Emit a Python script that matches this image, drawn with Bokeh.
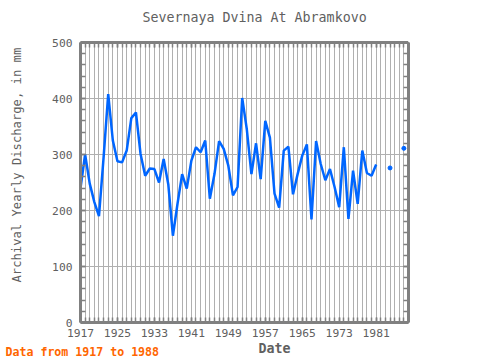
import math
from bokeh.plotting import figure
from bokeh.models import (Range1d, LinearAxis, FixedTicker, SingleIntervalTicker,
                          Title, ColumnDataSource)
from bokeh.embed import file_html
from bokeh.resources import INLINE

years = list(range(1917, 1988))
nan = float("nan")
discharge = [240, 300, 248, 215, 190, 295, 408, 325, 288, 286,
             307, 365, 375, 301, 262, 275, 274, 250, 292, 247,
             155, 212, 265, 239, 289, 313, 304, 325, 221, 265,
             324, 310, 280, 227, 242, 401, 345, 265, 320, 256,
             360, 330, 230, 205, 307, 314, 229, 265, 298, 318,
             184, 324, 283, 254, 274, 242, 206, 313, 185, 271,
             212, 307, 267, 262, 282, nan, nan, 276, nan, nan, 311]
label_years = list(range(1917, 1988, 8))
title_text = "Severnaya Dvina At Abramkovo"
ylabel_text = "Archival Yearly Discharge, in mm"
xlabel_text = "Date"
footer_text = "Data from 1917 to 1988"

FONT = "DejaVu Sans Mono"
AX = "#808080"
TXT = "#606060"

p = figure(width=480, height=360, output_backend="svg", toolbar_location=None,
           x_range=Range1d(1917, 1988), y_range=Range1d(0, 500),
           x_axis_location=None, y_axis_location=None,
           min_border_left=80, min_border_right=72, min_border_top=42, min_border_bottom=38)
p.outline_line_color = None
p.background_fill_color = "white"
p.border_fill_color = "white"

p.title.text = title_text
p.title.align = "left"
p.title.offset = 62
p.title.standoff = 2
p.title.text_font = FONT
p.title.text_font_size = "13.3px"
p.title.text_font_style = "normal"
p.title.text_color = TXT

xt = FixedTicker(ticks=label_years, minor_ticks=years + [1988])
yt = SingleIntervalTicker(interval=100, num_minor_ticks=5)

def style(ax, labels=True):
    ax.axis_line_color = AX
    ax.axis_line_width = 3
    ax.major_tick_line_color = AX
    ax.minor_tick_line_color = AX
    ax.major_tick_line_width = 1.5
    ax.minor_tick_line_width = 1.5
    ax.major_tick_in = 5
    ax.major_tick_out = 0
    ax.minor_tick_in = 5
    ax.minor_tick_out = 0
    ax.major_label_text_font = FONT
    ax.major_label_text_color = TXT
    ax.major_label_text_font_size = "11.3px"
    if not labels:
        ax.major_label_text_alpha = 0
        ax.major_label_text_font_size = "0px"
        ax.major_label_standoff = 0

def spacer(size, tick):
    # invisible (white) outward tick that only reserves room in the side panel
    ax = LinearAxis(ticker=FixedTicker(ticks=[tick], minor_ticks=[]))
    ax.axis_line_color = None
    ax.major_tick_line_color = "white"
    ax.major_tick_line_width = 1
    ax.minor_tick_line_color = None
    ax.major_tick_in = 0
    ax.major_tick_out = size
    ax.minor_tick_in = 0
    ax.minor_tick_out = 0
    ax.major_label_text_alpha = 0
    ax.major_label_text_font_size = "0px"
    ax.major_label_standoff = 0
    return ax

bottom = LinearAxis(ticker=xt); style(bottom); bottom.major_label_standoff = 6
top = LinearAxis(ticker=xt); style(top, False)
left = LinearAxis(ticker=yt); style(left); left.major_label_standoff = 8
right = LinearAxis(ticker=yt); style(right, False)

ytitle = Title(text=ylabel_text, align="left", offset=40, standoff=2,
               text_font=FONT, text_font_size="12.2px", text_font_style="normal",
               text_color=TXT)
xtitle = Title(text=xlabel_text, align="left", offset=178, standoff=2,
               vertical_align="top",
               text_font=FONT, text_font_size="13.3px", text_font_style="bold",
               text_color=TXT)
footer = Title(text=footer_text, align="left", offset=-75, standoff=-28,
               vertical_align="top",
               text_font=FONT, text_font_size="11.6px", text_font_style="bold",
               text_color="#ff6600")

p.above.extend([top, spacer(17, 1988)])
p.right.append(right)
p.left.extend([left, spacer(25, 0), ytitle])
p.below.extend([bottom, xtitle, footer])

p.xgrid.ticker = FixedTicker(ticks=years + [1988])
p.ygrid.ticker = SingleIntervalTicker(interval=100)
for g in (p.xgrid, p.ygrid):
    g.grid_line_color = "#b0b0b0"
    g.grid_line_width = 1

src = ColumnDataSource(dict(x=years, y=discharge))
p.line("x", "y", source=src, line_color="#0066ff", line_width=2.5)

iso_x, iso_y = [], []
for i, v in enumerate(discharge):
    if math.isnan(v):
        continue
    prev_nan = i == 0 or math.isnan(discharge[i - 1])
    next_nan = i == len(discharge) - 1 or math.isnan(discharge[i + 1])
    if prev_nan and next_nan:
        iso_x.append(years[i]); iso_y.append(v)
p.scatter(iso_x, iso_y, size=4, color="#0066ff")

open("out.html", "w").write(file_html(p, INLINE))
